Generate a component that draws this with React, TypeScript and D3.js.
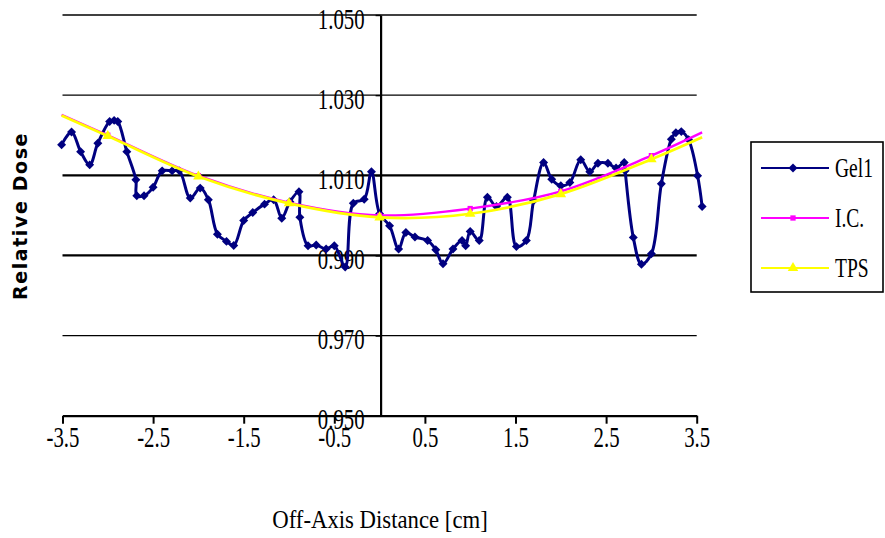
import React, { useEffect, useRef } from "react";
import * as d3 from "d3";

// Gel1 measurement
const gelX = [
  -3.51, -3.4, -3.3, -3.2, -3.11, -2.98, -2.93, -2.89, -2.79, -2.69,
  -2.68, -2.6, -2.5, -2.4, -2.29, -2.21, -2.09, -1.98, -1.89, -1.79,
  -1.69, -1.61, -1.5, -1.4, -1.27, -1.17, -1.08, -0.99, -0.89, -0.88,
  -0.79, -0.7, -0.59, -0.5, -0.38, -0.29, -0.17, -0.09, 0.0, 0.11,
  0.21, 0.29, 0.39, 0.53, 0.62, 0.7, 0.81, 0.91, 0.95, 1.0,
  1.1, 1.19, 1.29, 1.41, 1.51, 1.62, 1.7, 1.81, 1.9, 2.0,
  2.1, 2.22, 2.32, 2.41, 2.52, 2.61, 2.7, 2.71, 2.8, 2.89,
  3.0, 3.11, 3.22, 3.27, 3.33, 3.41, 3.51, 3.56,
];
const gelY = [
  1.0176, 1.0208, 1.0159, 1.0126, 1.018, 1.0234, 1.0237, 1.0234, 1.0159, 1.0089,
  1.0049, 1.0049, 1.007, 1.0111, 1.0111, 1.0111, 1.0043, 1.0068, 1.0039, 0.9953,
  0.9935, 0.9925, 0.9987, 1.0007, 1.0028, 1.0039, 0.9993, 1.0034, 1.0059, 0.9995,
  0.9924, 0.9926, 0.9916, 0.9924, 0.9871, 1.003, 1.004, 1.0109, 1.0004, 0.9974,
  0.9916, 0.9957, 0.9946, 0.9937, 0.9914, 0.9879, 0.9916, 0.9937, 0.9924, 0.996,
  0.9937, 1.0045, 1.0022, 1.0045, 0.9922, 0.9937, 1.0037, 1.0132, 1.009, 1.0074,
  1.0082, 1.0139, 1.0109, 1.013, 1.013, 1.0118, 1.0132, 1.0111, 0.9945, 0.9878,
  0.9904, 1.0079, 1.019, 1.0206, 1.0209, 1.0189, 1.0099, 1.0022,
];

// I.C. and TPS profiles (markers only on whole cm)
const calcX = [-3.51, -3, -2, -1, 0, 1, 2, 3, 3.56];
const icY = [1.0251, 1.02, 1.0099, 1.0032, 1.0, 1.0017, 1.006, 1.0149, 1.0207];
const tpsY = [1.0249, 1.0198, 1.0097, 1.003, 0.9995, 1.0004, 1.0053, 1.014, 1.0195];

const xTicks = [-3.5, -2.5, -1.5, -0.5, 0.5, 1.5, 2.5, 3.5];
const yTicks = [0.95, 0.97, 0.99, 1.01, 1.03, 1.05];

const serif = "'Liberation Serif', 'Times New Roman', serif";

function App() {
  const ref = useRef(null);

  useEffect(() => {
    const svg = d3.select(ref.current);
    svg.selectAll("*").remove();

    const x = d3.scaleLinear().domain([-3.5, 3.5]).range([62.5, 696.7]);
    const y = d3.scaleLinear().domain([0.95, 1.05]).range([415.7, 15]);

    // gridlines
    svg
      .append("g")
      .selectAll("line")
      .data(yTicks.filter((d) => d > 0.951))
      .enter()
      .append("line")
      .attr("x1", x(-3.5))
      .attr("x2", x(3.5))
      .attr("y1", (d) => y(d))
      .attr("y2", (d) => y(d))
      .attr("stroke", "#000")
      .attr("stroke-width", (d) => (Math.abs(d - 1.01) < 1e-6 || Math.abs(d - 0.99) < 1e-6 ? 2.2 : 1.3));

    // x axis
    const gx = svg
      .append("g")
      .attr("transform", "translate(0," + y(0.95) + ")")
      .call(
        d3
          .axisBottom(x)
          .tickValues(xTicks)
          .tickSize(8)
          .tickSizeOuter(0)
          .tickFormat((d) => String(d))
      );
    gx.select(".domain").attr("stroke-width", 2.2);
    gx.selectAll(".tick line").attr("stroke-width", 2);
    gx.selectAll(".tick text")
      .attr("y", 31 / 1.1)
      .attr("dy", 0)
      .attr("font-family", serif)
      .attr("font-size", 27)
      .attr("fill", "#000")
      .attr("transform", "scale(0.77,1.1)");

    // y axis through x = 0
    const gy = svg
      .append("g")
      .attr("transform", "translate(" + (x(0) + 1) + ",0)")
      .call(
        d3
          .axisLeft(y)
          .tickValues(yTicks)
          .tickSize(5)
          .tickSizeOuter(0)
          .tickFormat(d3.format(".3f"))
      );
    gy.select(".domain").attr("stroke-width", 2.2);
    gy.selectAll(".tick line").attr("stroke-width", 1.4);
    gy.selectAll(".tick text")
      .attr("x", -16 / 0.77)
      .attr("y", 13 / 1.1)
      .attr("dy", 0)
      .attr("font-family", serif)
      .attr("font-size", 27)
      .attr("fill", "#000")
      .attr("transform", "scale(0.77,1.1)");

    // axis titles
    svg
      .append("text")
      .attr("transform", "translate(380,528) scale(0.91,1.03)")
      .attr("text-anchor", "middle")
      .attr("font-family", serif)
      .attr("font-size", 25)
      .text("Off-Axis Distance [cm]");

    svg
      .append("text")
      .attr("transform", "translate(27,216) rotate(-90)")
      .attr("text-anchor", "middle")
      .attr("font-family", "'DejaVu Sans', sans-serif")
      .attr("font-weight", "bold")
      .attr("font-size", 19)
      .attr("letter-spacing", 1.6)
      .text("Relative Dose");

    const curve = d3.curveCatmullRom.alpha(0.5);
    const line = d3
      .line()
      .x((d) => x(d[0]))
      .y((d) => y(d[1]))
      .curve(curve);

    const diamond = d3.symbol().type(d3.symbolSquare).size(40)();
    const square = d3.symbol().type(d3.symbolSquare).size(28)();
    const triangle = d3.symbol().type(d3.symbolTriangle).size(48)();

    const series = [
      {
        name: "Gel1",
        pts: gelX.map((v, i) => [v, gelY[i]]),
        color: "#000080",
        width: 3,
        shape: diamond,
        rot: 45,
        marks: (d) => true,
      },
      {
        name: "I.C.",
        pts: calcX.map((v, i) => [v, icY[i]]),
        color: "#FF00FF",
        width: 2.3,
        shape: square,
        rot: 0,
        marks: (d) => Number.isInteger(d[0]),
      },
      {
        name: "TPS",
        pts: calcX.map((v, i) => [v, tpsY[i]]),
        color: "#FFFF00",
        width: 2.7,
        shape: triangle,
        rot: 0,
        marks: (d) => Number.isInteger(d[0]),
      },
    ];

    series.forEach((s) => {
      const g = svg.append("g");
      g.append("path")
        .attr("d", line(s.pts))
        .attr("fill", "none")
        .attr("stroke", s.color)
        .attr("stroke-width", s.width)
        .attr("stroke-linejoin", "round");
      g.selectAll("path.m")
        .data(s.pts.filter(s.marks))
        .enter()
        .append("path")
        .attr("class", "m")
        .attr("d", s.shape)
        .attr("fill", s.color)
        .attr("transform", (d) => "translate(" + x(d[0]) + "," + y(d[1]) + ") rotate(" + s.rot + ")");
    });

    // legend
    const lg = svg.append("g");
    lg.append("rect")
      .attr("x", 751)
      .attr("y", 142)
      .attr("width", 132)
      .attr("height", 150)
      .attr("fill", "#fff")
      .attr("stroke", "#000")
      .attr("stroke-width", 1.6);
    series.forEach((s, i) => {
      const cy = 168 + i * 50;
      lg.append("line")
        .attr("x1", 761)
        .attr("x2", 829)
        .attr("y1", cy)
        .attr("y2", cy)
        .attr("stroke", s.color)
        .attr("stroke-width", 2.2);
      lg.append("path")
        .attr("d", s.shape)
        .attr("fill", s.color)
        .attr("transform", "translate(793," + cy + ") rotate(" + s.rot + ")");
      lg.append("text")
        .attr("transform", "translate(835," + (cy + 9) + ") scale(0.75,1.05)")
        .attr("font-family", serif)
        .attr("font-size", 26)
        .text(s.name);
    });
  }, []);

  return (
    <svg
      ref={ref}
      width={885}
      height={538}
      style={{ position: "absolute", left: 0, top: 0, background: "#fff" }}
    />
  );
}

export default App;
